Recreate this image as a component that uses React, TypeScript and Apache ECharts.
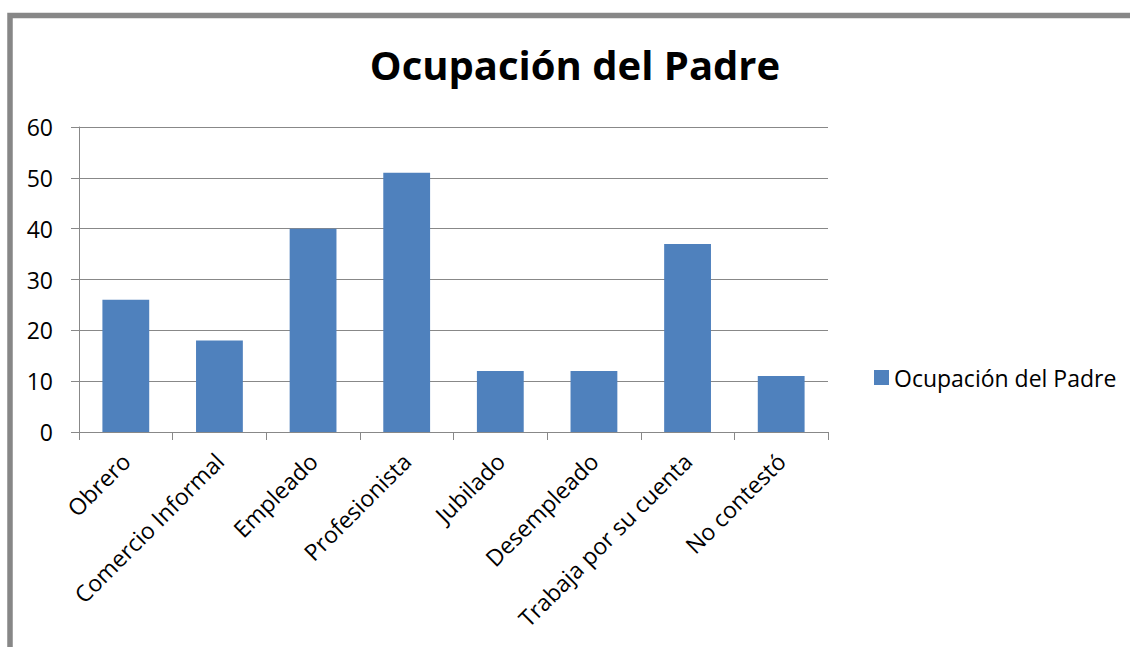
import React, { useEffect, useRef } from "react";
import * as echarts from "echarts";

const categories = [
  "Obrero",
  "Comercio Informal",
  "Empleado",
  "Profesionista",
  "Jubilado",
  "Desempleado",
  "Trabaja por su cuenta",
  "No contestó",
];
const values = [26, 18, 40, 51, 12, 12, 37, 11];
const seriesName = "Ocupación del Padre";
const titleText = "Ocupación del Padre";

export default function App() {
  const ref = useRef<HTMLDivElement>(null);
  useEffect(() => {
    if (!ref.current) return;
    const chart = echarts.init(ref.current, undefined, { renderer: "svg" });
    const font = "'Open Sans', 'DejaVu Sans', sans-serif";
    chart.setOption({
      animation: false,
      backgroundColor: "#ffffff",
      textStyle: { fontFamily: font },
      title: {
        text: titleText,
        left: 570,
        top: 39,
        textAlign: "center",
        textStyle: { fontSize: 40, fontWeight: "bold", color: "#000", fontFamily: font },
      },
      legend: {
        data: [seriesName],
        left: 869,
        top: 361,
        itemWidth: 15,
        itemHeight: 15,
        itemGap: 6,
        icon: "rect",
        textStyle: { fontSize: 23, color: "#000", fontFamily: font },
      },
      grid: { left: 79, right: 302, top: 127, bottom: 215, containLabel: false },
      xAxis: {
        type: "category",
        data: categories,
        axisLine: { lineStyle: { color: "#888", width: 1 } },
        axisTick: { show: true, alignWithLabel: false, length: 8, lineStyle: { color: "#888" } },
        axisLabel: {
          rotate: 45,
          interval: 0,
          fontSize: 23,
          color: "#000",
          margin: 25,
          fontFamily: font,
        },
      },
      yAxis: {
        type: "value",
        min: 0,
        max: 60,
        interval: 10,
        axisLine: { show: true, lineStyle: { color: "#888", width: 1 } },
        axisTick: { show: true, length: 8, lineStyle: { color: "#888" } },
        splitLine: { show: true, lineStyle: { color: "#888", width: 1 } },
        axisLabel: { fontSize: 23, color: "#000", margin: 26, fontFamily: font },
      },
      series: [
        {
          name: seriesName,
          type: "bar",
          data: values,
          barCategoryGap: "50%",
          itemStyle: { color: "#4F81BD" },
        },
      ],
      graphic: [
        {
          type: "rect",
          shape: { x: 10, y: 15.5, width: 2000, height: 2000 },
          style: { fill: "none", stroke: "#878787", lineWidth: 5.5 },
          silent: true,
        },
      ],
    });
    return () => chart.dispose();
  }, []);
  return (
    <div
      ref={ref}
      style={{ position: "absolute", left: 0, top: 0, width: 1130, height: 647 }}
    />
  );
}
